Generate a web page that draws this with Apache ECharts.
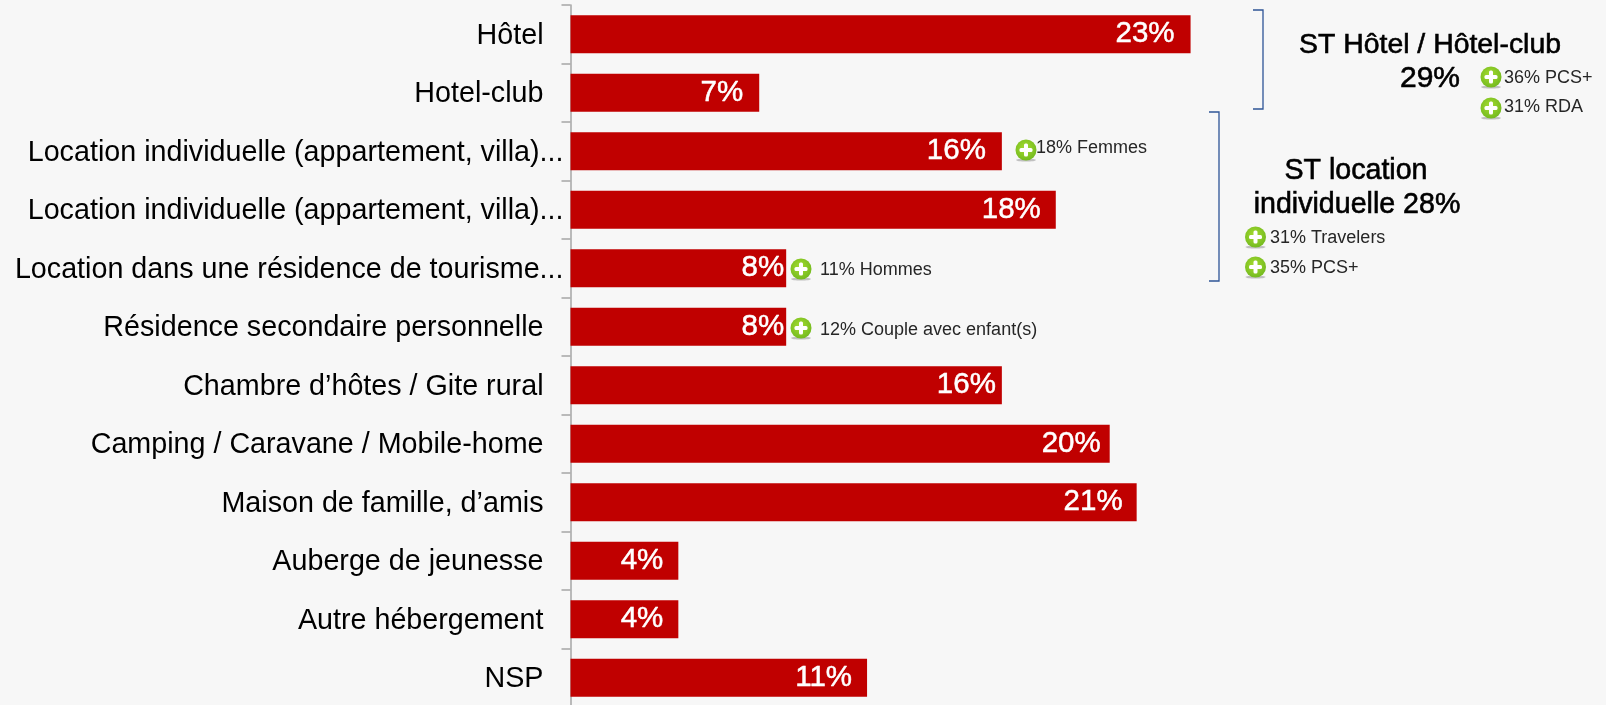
<!DOCTYPE html>
<html><head><meta charset="utf-8">
<style>html,body{margin:0;padding:0;background:#f7f7f7}#c{width:1606px;height:705px}</style>
<script src="https://cdn.jsdelivr.net/npm/echarts@6/dist/echarts.min.js"></script>
</head><body><div id="c"></div>
<script>
const categories = ["Hôtel","Hotel-club","Location individuelle (appartement, villa)...","Location individuelle (appartement, villa)...","Location dans une résidence de tourisme...","Résidence secondaire personnelle","Chambre d’hôtes / Gite rural","Camping / Caravane / Mobile-home","Maison de famille, d’amis","Auberge de jeunesse","Autre hébergement","NSP"];
const values = [23,7,16,18,8,8,16,20,21,4,4,11];
const summaryTexts = ["ST Hôtel / Hôtel-club","29%","ST location","individuelle 28%"];
const noteTexts = ["36% PCS+","31% RDA","31% Travelers","35% PCS+","18% Femmes","11% Hommes","12% Couple avec enfant(s)"];

const FONT = '"Liberation Sans", Arial, sans-serif';
const labelGaps = [16,16,16,15,2,2,6,9,14,15,15,15];
const summaryPos = [[1430,45],[1430,79],[1356,171],[1357,205]];
const summarySize = [28.4,30,28.6,28.6];
const notePos = [[1504,78],[1504,107],[1270,238],[1270,268],[1036,148],[820,270],[820,330]];
const iconPos = [[1491,77],[1491,108],[1255.5,237],[1255.5,267],[1026,150],[801,269],[801,328]];
const brackets = [[1253,10,1263,109],[1209,112,1219,281]];

function icon(x,y){
  return {type:'group',x:x,y:y,silent:true,children:[
    {type:'ellipse',shape:{cx:0,cy:10,rx:10,ry:1.6},style:{fill:'rgba(90,90,90,0.35)'}},
    {type:'circle',shape:{cx:0,cy:0,r:10.5},style:{fill:new echarts.graphic.RadialGradient(0.45,0.4,0.7,[{offset:0,color:'#a6dc30'},{offset:1,color:'#6cb51c'}])}},
    {type:'rect',shape:{x:-6.5,y:-2,width:13,height:4,r:1.5},style:{fill:'#fff'}},
    {type:'rect',shape:{x:-2,y:-6.5,width:4,height:13,r:1.5},style:{fill:'#fff'}}
  ]};
}
const graphics = [];
brackets.forEach(b=>graphics.push({type:'polyline',silent:true,shape:{points:[[b[0],b[1]],[b[2],b[1]],[b[2],b[3]],[b[0],b[3]]]},style:{stroke:'#2f5597',lineWidth:1.3,fill:null}}));
summaryTexts.forEach((t,i)=>graphics.push({type:'text',silent:true,x:summaryPos[i][0],y:summaryPos[i][1],style:{text:t,fill:'#000',font:summarySize[i]+'px '+FONT,align:'center',verticalAlign:'middle',stroke:'#000',lineWidth:0.6}}));
iconPos.forEach(p=>graphics.push(icon(p[0],p[1])));
noteTexts.forEach((t,i)=>graphics.push({type:'text',silent:true,x:notePos[i][0],y:notePos[i][1],style:{text:t,fill:'#262626',font:'18px '+FONT,align:'left',verticalAlign:'middle'}}));

const chart = echarts.init(document.getElementById('c'),null,{renderer:'canvas'});
chart.setOption({
  backgroundColor:'#f7f7f7',
  animation:false,
  grid:{left:570.5,top:5,width:808.8,height:702,containLabel:false,outerBoundsMode:'none'},
  xAxis:{type:'value',min:0,max:30,show:false},
  yAxis:{type:'category',inverse:true,data:categories,
    axisLine:{show:true,lineStyle:{color:'#a6a6a6',width:1.5}},
    axisTick:{show:true,length:9,lineStyle:{color:'#a6a6a6',width:1.5},alignWithLabel:false},
    axisLabel:{show:true,interval:0,margin:7,fontFamily:FONT,fontSize:28.7,color:'#000',
      formatter:v=>v.endsWith('...')?'{t|'+v+'}':'{n|'+v+'}',
      rich:{t:{fontFamily:FONT,fontSize:28.7,color:'#000',padding:[3,0,0,0]},n:{fontFamily:FONT,fontSize:28.7,color:'#000',padding:[3,20,0,0]}}}
  },
  series:[{type:'bar',barWidth:38,itemStyle:{color:'#c00000'},
    data:values.map((v,i)=>({value:v,label:{distance:labelGaps[i]}})),
    label:{show:true,position:'insideRight',formatter:'{c}%',color:'#fff',fontFamily:FONT,fontSize:29.5,textBorderColor:'#fff',textBorderWidth:0.5}}],
  graphic:graphics
});
</script></body></html>
